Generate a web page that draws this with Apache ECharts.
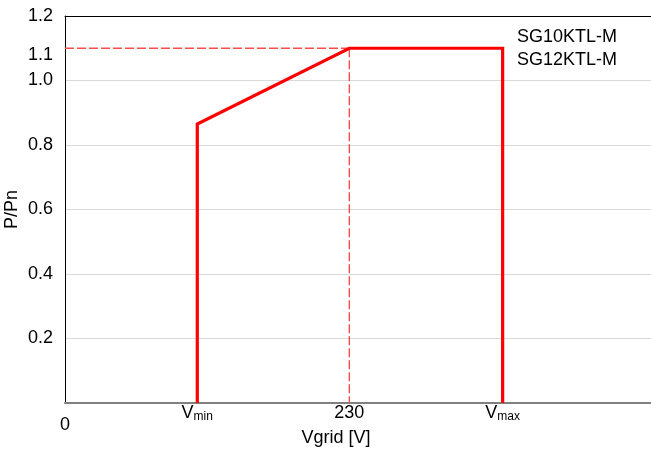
<!DOCTYPE html>
<html>
<head>
<meta charset="utf-8">
<script src="https://cdn.jsdelivr.net/npm/echarts@6/dist/echarts.min.js"></script>
<style>html,body{margin:0;padding:0;background:#fff}#c{width:651px;height:449px}</style>
</head>
<body>
<div id="c"></div>
<script>
// Axis ticks (x in volts-like units; Vmin / Vmax are symbolic positions)
const xTickValues = [0, 107, 230, 354];
const xTickLabels = ['0', 'Vmin', '230', 'Vmax'];
const xMax = 474;
const yTickValues = [0.2, 0.4, 0.6, 0.8, 1.0, 1.1, 1.2];
const yTickLabels = ['0.2', '0.4', '0.6', '0.8', '1.0', '1.1', '1.2'];
// P/Pn curve
const curveX = [107, 107, 230, 354, 354];
const curveY = [0, 0.865, 1.1, 1.1, 0];
// dashed reference lines
const refHX = [0, 230];
const refHY = [1.1, 1.1];
const refVX = [230, 230];
const refVY = [1.1, 0];
const legendLines = ['SG10KTL-M', 'SG12KTL-M'];

const zip = (a, b) => a.map((v, i) => [v, b[i]]);
const FONT = 'Liberation Sans, Arial, sans-serif';
const DASH = '#ff4a4a';

const chart = echarts.init(document.getElementById('c'), null, {renderer: 'canvas'});
chart.setOption({
  animation: false,
  backgroundColor: '#fff',
  textStyle: {fontFamily: FONT},
  title: {
    text: legendLines.join('\n'),
    left: 517, top: 26, padding: 0,
    textStyle: {fontSize: 18, fontWeight: 'normal', color: '#000', lineHeight: 23, fontFamily: FONT}
  },
  grid: {left: 65, right: 0, top: 16, bottom: 46, outerBoundsMode: 'none', containLabel: false},
  xAxis: [{
    type: 'value', min: 0, max: xMax,
    name: 'Vgrid [V]', nameLocation: 'middle', nameGap: 26, nameMoveOverlap: false,
    nameTextStyle: {fontSize: 18, color: '#000', padding: [0, 44, 0, 0], fontFamily: FONT},
    axisLine: {show: true, onZero: false, lineStyle: {color: '#808080', width: 2}},
    axisTick: {show: false},
    splitLine: {show: false},
    axisLabel: {
      customValues: xTickValues,
      margin: 0, hideOverlap: false,
      color: '#000', fontSize: 18, fontFamily: FONT,
      formatter: function (v) {
        const i = xTickValues.indexOf(v);
        const t = i >= 0 ? xTickLabels[i] : '';
        if (t === '0') return '{z|0}';
        if (t.charAt(0) === 'V') return '{v|V}{s|' + t.slice(1) + '}';
        return '{n|' + t + '}';
      },
      rich: {
        z: {fontSize: 18, lineHeight: 44, color: '#000', fontFamily: FONT},
        n: {fontSize: 18, lineHeight: 20, color: '#000', fontFamily: FONT},
        v: {fontSize: 18, lineHeight: 20, color: '#000', fontFamily: FONT},
        s: {fontSize: 12, lineHeight: 12, verticalAlign: 'bottom', color: '#000', fontFamily: FONT}
      }
    }
  }, {
    type: 'value', min: 0, max: xMax, position: 'top',
    axisLine: {show: true, onZero: false, lineStyle: {color: '#000', width: 1}},
    axisTick: {show: false}, axisLabel: {show: false}, splitLine: {show: false}
  }],
  yAxis: {
    type: 'value', min: 0, max: 1.2, interval: 0.2,
    name: 'P/Pn', nameLocation: 'middle', nameGap: 44, nameRotate: 90, nameMoveOverlap: false,
    nameTextStyle: {fontSize: 18, color: '#000', fontFamily: FONT},
    axisLine: {show: true, onZero: false, lineStyle: {color: '#000', width: 1}},
    axisTick: {show: false},
    splitLine: {show: true, lineStyle: {color: '#d9d9d9', width: 1}},
    axisLabel: {
      customValues: yTickValues,
      margin: 12, hideOverlap: false, color: '#000', fontSize: 18, fontFamily: FONT,
      formatter: function (v) {
        let i = -1;
        yTickValues.forEach((t, k) => { if (Math.abs(t - v) < 1e-9) i = k; });
        const t = i >= 0 ? yTickLabels[i] : '';
        if (t === '1.1') return '{d|' + t + '}';
        return t;
      },
      rich: {
        d: {fontSize: 18, lineHeight: 18, padding: [14, 0, 0, 0], color: '#000', fontFamily: FONT}
      }
    }
  },
  series: [{
    type: 'line', data: zip(refHX, refHY), symbol: 'none', z: 2, silent: true, color: DASH,
    itemStyle: {color: DASH},
    lineStyle: {color: DASH, width: 1.4, type: [9, 3]}
  }, {
    type: 'line', data: zip(refVX, refVY), symbol: 'none', z: 2, silent: true, color: DASH,
    itemStyle: {color: DASH},
    lineStyle: {color: DASH, width: 1.4, type: [9, 3]}
  }, {
    type: 'line', data: zip(curveX, curveY), symbol: 'none', z: 3, silent: true, color: '#ff0000',
    lineStyle: {color: '#ff0000', width: 3.2, join: 'miter', cap: 'butt'}
  }]
});
</script>
</body>
</html>
